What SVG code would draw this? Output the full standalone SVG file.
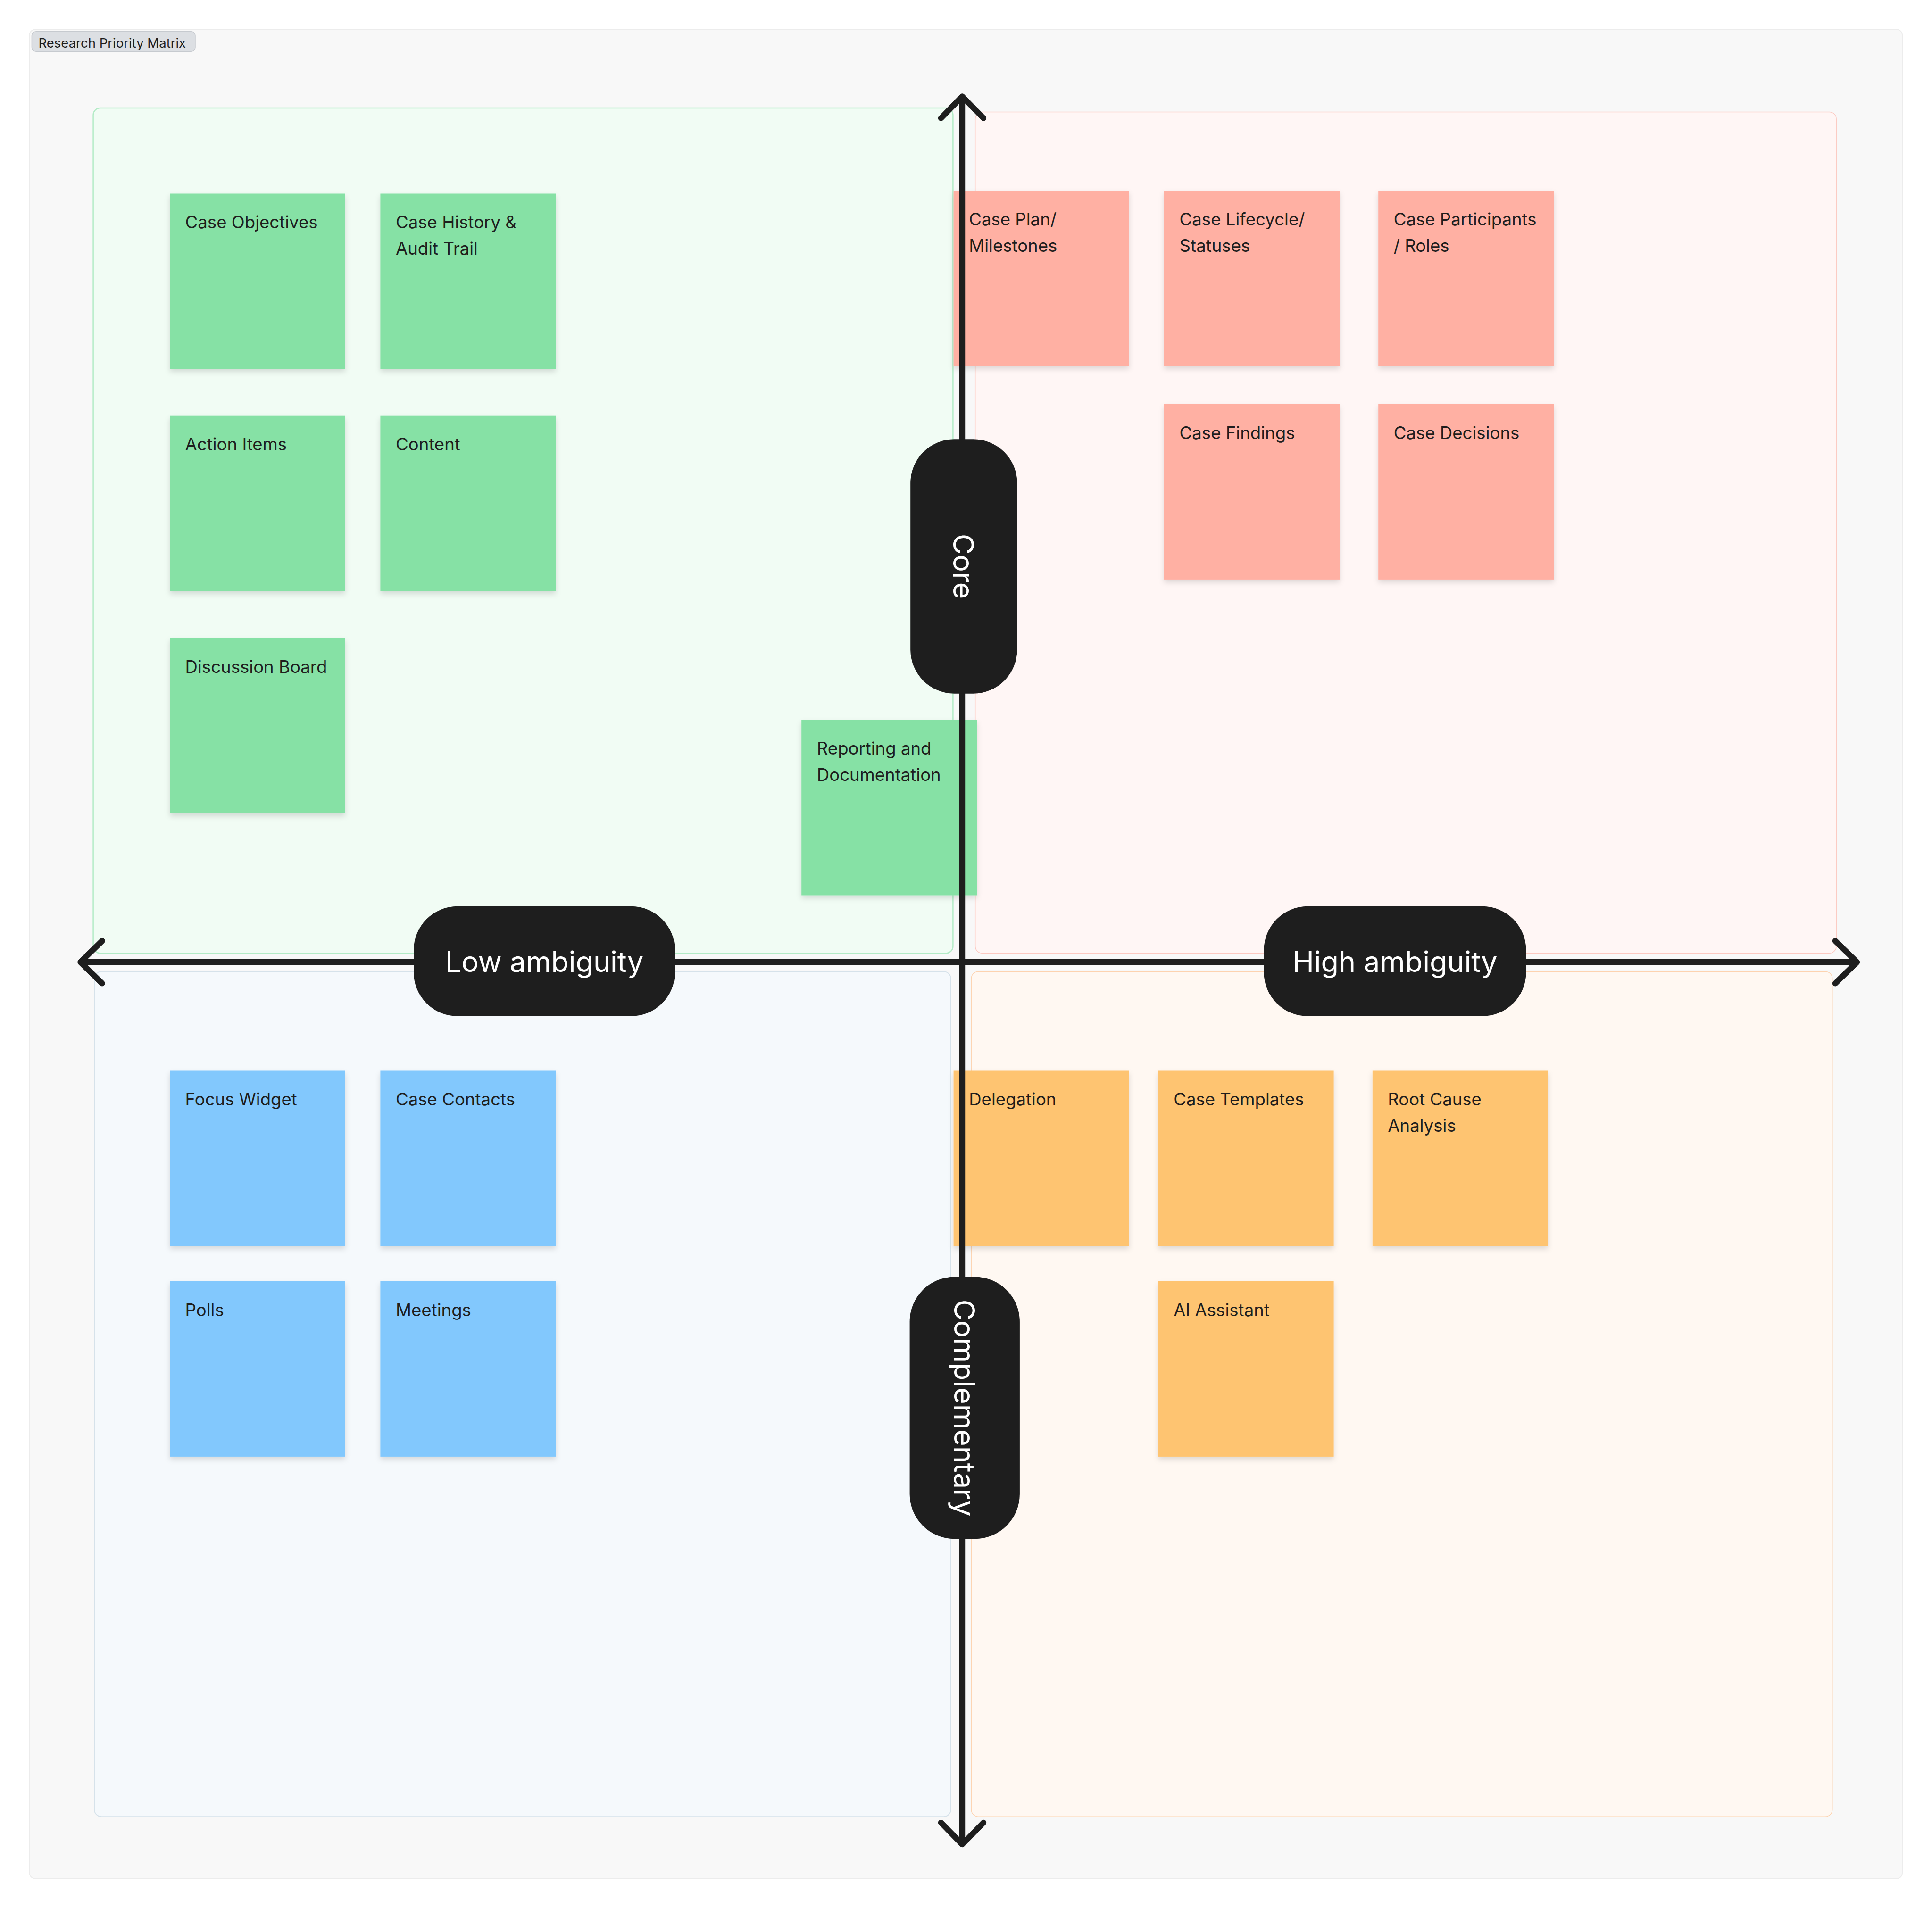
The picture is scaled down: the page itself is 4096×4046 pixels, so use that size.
<svg xmlns="http://www.w3.org/2000/svg" width="4096" height="4046" viewBox="0 0 4096 4046">
<defs>
<style>
.sticky text{font-family:Inter,"Noto Sans","Liberation Sans",sans-serif;font-size:36.6px;fill:#1e1e1e}
.g rect{fill:#86e1a5}
.r rect{fill:#ffb0a3}
.b rect{fill:#82c8fd}
.o rect{fill:#fec471}
.sticky rect{filter:url(#sh)}
.pill rect{fill:#1e1e1e}
.pill text{font-family:Inter,"Noto Sans","Liberation Sans",sans-serif;font-size:61px;fill:#ffffff;text-anchor:middle}
.axis{fill:none;stroke:#1e1e1e;stroke-width:12.4}
</style>
<filter id="sh" x="-10%" y="-10%" width="120%" height="125%">
<feDropShadow dx="0" dy="6" stdDeviation="6" flood-color="#000000" flood-opacity="0.13"/>
</filter>
<marker id="chev" viewBox="-70 -70 90 140" refX="0" refY="0" markerWidth="90" markerHeight="140" markerUnits="userSpaceOnUse" orient="auto-start-reverse">
<path d="M-46,-45 L0,0 L-46,45" fill="none" stroke="#1e1e1e" stroke-width="12.4" stroke-linecap="round" stroke-linejoin="round"/>
</marker>
</defs>
<rect x="0" y="0" width="4096" height="4046" fill="#ffffff"/>
<g id="frame">
<rect x="62.5" y="62.5" width="3970.5" height="3921" rx="12" fill="#f8f8f8" stroke="#ececec" stroke-width="2"/>
<rect x="67.4" y="66.7" width="346.6" height="42.6" rx="9" fill="#dcdfe3" stroke="#c6cacf" stroke-width="1.5"/>
<text x="81.5" y="100.8" font-family="Inter,'Noto Sans','Liberation Sans',sans-serif" font-size="27.5" fill="#1e1e1e">Research Priority Matrix</text>
</g>
<g id="quadrants">
<rect id="q-tl" x="197.6" y="228.9" width="1822.8" height="1792.5" rx="15" fill="#f1fcf4" stroke="#b3ebc6" stroke-width="2.5"/>
<rect id="q-tr" x="2067.7" y="237.4" width="1825.5" height="1784" rx="15" fill="#fff6f5" stroke="#fcc9c1" stroke-width="1.5"/>
<rect id="q-bl" x="200" y="2060.2" width="1815.8" height="1792" rx="15" fill="#f5f9fc" stroke="#d6e2ea" stroke-width="2"/>
<rect id="q-br" x="2059.2" y="2060.2" width="1825.5" height="1792" rx="15" fill="#fff8f2" stroke="#fdd3b0" stroke-width="1.5"/>
</g>
<g id="stickies">
<g id="n-case-objectives" class="sticky g"><rect x="360" y="410.5" width="372" height="372"/><text x="392.6" y="484.1">Case Objectives</text></g>
<g id="n-case-history" class="sticky g"><rect x="806.4" y="410.5" width="372" height="372"/><text x="839" y="484.1">Case History &amp;</text><text x="839" y="539.9">Audit Trail</text></g>
<g id="n-action-items" class="sticky g"><rect x="360" y="881.7" width="372" height="372"/><text x="392.6" y="955.3">Action Items</text></g>
<g id="n-content" class="sticky g"><rect x="806.4" y="881.7" width="372" height="372"/><text x="839" y="955.3">Content</text></g>
<g id="n-discussion-board" class="sticky g"><rect x="360" y="1352.9" width="372" height="372"/><text x="392.6" y="1426.5">Discussion Board</text></g>
<g id="n-reporting" class="sticky g"><rect x="1699.2" y="1526.5" width="372" height="372"/><text x="1731.8" y="1600.1">Reporting and</text><text x="1731.8" y="1655.9">Documentation</text></g>
<g id="n-case-plan" class="sticky r"><rect x="2021.6" y="404.3" width="372" height="372"/><text x="2054.2" y="477.9">Case Plan/</text><text x="2054.2" y="533.7">Milestones</text></g>
<g id="n-case-lifecycle" class="sticky r"><rect x="2468" y="404.3" width="372" height="372"/><text x="2500.6" y="477.9">Case Lifecycle/</text><text x="2500.6" y="533.7">Statuses</text></g>
<g id="n-case-participants" class="sticky r"><rect x="2922.2" y="404.3" width="372" height="372"/><text x="2954.7" y="477.9">Case Participants</text><text x="2954.7" y="533.7">/ Roles</text></g>
<g id="n-case-findings" class="sticky r"><rect x="2468" y="856.9" width="372" height="372"/><text x="2500.6" y="930.5">Case Findings</text></g>
<g id="n-case-decisions" class="sticky r"><rect x="2922.2" y="856.9" width="372" height="372"/><text x="2954.7" y="930.5">Case Decisions</text></g>
<g id="n-focus-widget" class="sticky b"><rect x="360" y="2270.5" width="372" height="372"/><text x="392.6" y="2344.1">Focus Widget</text></g>
<g id="n-case-contacts" class="sticky b"><rect x="806.4" y="2270.5" width="372" height="372"/><text x="839" y="2344.1">Case Contacts</text></g>
<g id="n-polls" class="sticky b"><rect x="360" y="2716.9" width="372" height="372"/><text x="392.6" y="2790.5">Polls</text></g>
<g id="n-meetings" class="sticky b"><rect x="806.4" y="2716.9" width="372" height="372"/><text x="839" y="2790.5">Meetings</text></g>
<g id="n-delegation" class="sticky o"><rect x="2021.6" y="2270.5" width="372" height="372"/><text x="2054.2" y="2344.1">Delegation</text></g>
<g id="n-case-templates" class="sticky o"><rect x="2455.6" y="2270.5" width="372" height="372"/><text x="2488.2" y="2344.1">Case Templates</text></g>
<g id="n-root-cause" class="sticky o"><rect x="2909.8" y="2270.5" width="372" height="372"/><text x="2942.3" y="2344.1">Root Cause</text><text x="2942.3" y="2399.9">Analysis</text></g>
<g id="n-ai-assistant" class="sticky o"><rect x="2455.6" y="2716.9" width="372" height="372"/><text x="2488.2" y="2790.5">AI Assistant</text></g>
</g>
<g id="connectors">
<line id="axis-x" class="axis" x1="170.5" y1="2040.2" x2="3937" y2="2040.2" marker-start="url(#chev)" marker-end="url(#chev)"/>
<line id="axis-y" class="axis" x1="2040" y1="204.5" x2="2040" y2="3911" marker-start="url(#chev)" marker-end="url(#chev)"/>
</g>
<g id="axis-labels">
<g id="l-low" class="pill"><rect x="877" y="1921.8" width="554" height="233" rx="93"/><text x="1154" y="2060.8">Low ambiguity</text></g>
<g id="l-high" class="pill"><rect x="2679.5" y="1921.8" width="556" height="233" rx="93"/><text x="2957.5" y="2060.8">High ambiguity</text></g>
<g id="l-core" class="pill"><rect x="1930.2" y="931.3" width="226.3" height="539.4" rx="93"/><text transform="translate(2043.3,1201) rotate(90)" x="0" y="22">Core</text></g>
<g id="l-complementary" class="pill"><rect x="1928.6" y="2707.6" width="233.3" height="555.7" rx="95"/><text transform="translate(2045.3,2985.5) rotate(90)" x="0" y="22">Complementary</text></g>
</g>
</svg>
